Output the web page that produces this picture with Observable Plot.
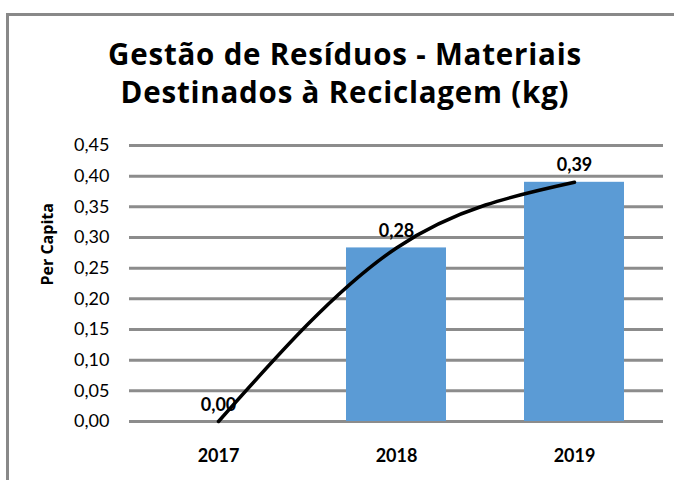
<!DOCTYPE html>
<html>
<head>
<meta charset="utf-8">
<script src="https://cdn.jsdelivr.net/npm/d3@7"></script>
<script src="https://cdn.jsdelivr.net/npm/@observablehq/plot@0.6"></script>
<style>
  html, body { margin: 0; padding: 0; background: #fff; overflow: hidden; width: 674px; height: 480px; }
  #wrap { position: relative; width: 674px; height: 480px; overflow: hidden; font-family: Lato, "Open Sans", sans-serif; }
  .hline { position: absolute; left: 6px; top: 13px; width: 700px; height: 3px; background: #898989; }
  .vline { position: absolute; left: 6px; top: 13px; width: 3px; height: 500px; background: #898989; }
  #title { position: absolute; left: 0; width: 690px; top: 35px; text-align: center; font-family: "Open Sans", sans-serif; font-weight: bold; font-size: 29.5px; letter-spacing: 0.8px; line-height: 38px; color: #000; white-space: nowrap; }
  #chart { position: absolute; left: 0; top: 0; }
</style>
</head>
<body>
<div id="wrap">
  <div class="hline"></div>
  <div class="vline"></div>
  <div id="title">Gestão de Resíduos - Materiais<br>Destinados à Reciclagem (kg)</div>
  <div id="chart"></div>
</div>
<script>
const years = ["2017", "2018", "2019"];
const perCapita = [0.00, 0.283, 0.39];
const yTicks = [0, 0.05, 0.10, 0.15, 0.20, 0.25, 0.30, 0.35, 0.40, 0.45];
const yLabel = "Per Capita";

const data = years.map((y, i) => ({year: y, value: perCapita[i]}));
const fmt = d => d.toFixed(2).replace(".", ",");

const chart = Plot.plot({
  width: 674,
  height: 480,
  marginLeft: 129,
  marginRight: 11,
  marginTop: 145,
  marginBottom: 59,
  style: {fontFamily: "Lato, 'Open Sans', sans-serif", background: "transparent", color: "#000"},
  x: {domain: years, paddingInner: 0.44, paddingOuter: 0.22, axis: null},
  y: {domain: [0, 0.45], axis: null},
  marks: [
    Plot.ruleY(yTicks, {stroke: "#8c8c8c", strokeWidth: 3}),
    Plot.barY(data, {x: "year", y: "value", fill: "#5b9bd5"}),
    Plot.line(data, {x: "year", y: "value", stroke: "#000", strokeWidth: 3.5, curve: "natural"}),
    Plot.text(data, {x: "year", y: "value", text: d => fmt(d.value), lineAnchor: "bottom", dy: -11, fontSize: 18, fontWeight: "bold", fill: "#000"}),
    Plot.axisY(yTicks, {tickSize: 0, tickPadding: 20, fontSize: 18, tickFormat: fmt, label: null}),
    Plot.axisX(years, {tickSize: 0, tickPadding: 28, fontSize: 18, fontWeight: "bold", label: null}),
    Plot.text([yLabel], {frameAnchor: "left", dx: -82, dy: 2, rotate: -90, fontSize: 16, fontWeight: "bold", fontFamily: "'Open Sans', sans-serif", fill: "#000"})
  ]
});
document.getElementById("chart").appendChild(chart);
</script>
</body>
</html>
